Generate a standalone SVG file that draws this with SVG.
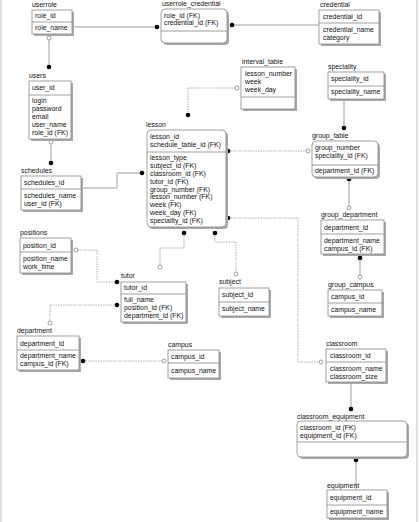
<svg xmlns="http://www.w3.org/2000/svg" width="420" height="522" viewBox="0 0 420 522">
<style>
text{font-family:"Liberation Sans",Arial,sans-serif;font-size:6.9px;fill:#111}
.box{fill:#fff;stroke:#888;stroke-width:0.8}
.sh{fill:#aaa}
.dv{stroke:#888;stroke-width:0.8}
.sol{fill:none;stroke:#888;stroke-width:0.8}
.dash{fill:none;stroke:#999;stroke-width:0.8;stroke-dasharray:1.5 1}
.dot{fill:#000}
.oc{fill:#fff;stroke:#888;stroke-width:0.8}
.bd{stroke:#bbb;stroke-width:1}
</style>
<rect width="420" height="522" fill="#fff"/>
<line class="bd" x1="1" y1="0" x2="1" y2="522"/>
<line class="bd" x1="417" y1="0" x2="417" y2="522"/>

<g id="connectors">
<path class="sol" d="M72,27 H157"/>
<circle class="dot" cx="157" cy="27" r="2.3"/>
<path class="sol" d="M232,25 H319"/>
<circle class="dot" cx="232" cy="25" r="2.3"/>
<path class="sol" d="M49,38 V67"/>
<circle class="oc" cx="49" cy="38" r="2"/>
<circle class="dot" cx="49" cy="67" r="2.3"/>
<path class="sol" d="M51,143 V163"/>
<circle class="oc" cx="51" cy="142" r="2"/>
<circle class="dot" cx="51" cy="163" r="2.3"/>
<path class="sol" d="M81,188 H117 V173 H142"/>
<circle class="dot" cx="142" cy="173" r="2.3"/>
<path class="dash" d="M188,115 V88 H236"/>
<circle class="dot" cx="188" cy="115" r="2.3"/>
<circle class="oc" cx="237" cy="88" r="2"/>
<path class="sol" d="M344,99 V128"/>
<circle class="dot" cx="344" cy="128" r="2.3"/>
<path class="dash" d="M228,151 H306"/>
<circle class="dot" cx="228" cy="151" r="2.3"/>
<circle class="oc" cx="308" cy="151" r="2"/>
<path class="dash" d="M228,218 H298 V362 H319"/>
<circle class="dot" cx="228" cy="218" r="2.3"/>
<circle class="oc" cx="321" cy="362" r="2"/>
<path class="sol" d="M349,180 V206"/>
<circle class="dot" cx="349" cy="179" r="2.3"/>
<circle class="oc" cx="349" cy="208" r="2"/>
<path class="sol" d="M360,258 V275"/>
<circle class="dot" cx="360" cy="258" r="2.3"/>
<circle class="oc" cx="360" cy="277" r="2"/>
<path class="dash" d="M215,233 V242 H236 V272"/>
<circle class="dot" cx="215" cy="233" r="2.3"/>
<circle class="oc" cx="236" cy="274" r="2"/>
<path class="dash" d="M184,233 V248 H160 V265"/>
<circle class="dot" cx="184" cy="233" r="2.3"/>
<circle class="oc" cx="160" cy="267" r="2"/>
<path class="dash" d="M78,250 H97 V282 H117"/>
<circle class="oc" cx="76" cy="250" r="2"/>
<circle class="dot" cx="117" cy="282" r="2.3"/>
<path class="dash" d="M117,305 H50 V321"/>
<circle class="dot" cx="117" cy="305" r="2.3"/>
<circle class="oc" cx="50" cy="323" r="2"/>
<path class="dash" d="M83,361 H162"/>
<circle class="dot" cx="83" cy="361" r="2.3"/>
<circle class="oc" cx="164" cy="361" r="2"/>
<path class="sol" d="M351,382 V409"/>
<circle class="dot" cx="351" cy="409" r="2.3"/>
<path class="sol" d="M356,460 V490"/>
<circle class="dot" cx="356" cy="460" r="2.3"/>
</g>

<g id="userrole">
<text x="32" y="7">userrole</text>
<rect class="sh" x="34" y="12" width="40" height="24"/>
<rect class="box" x="32" y="10" width="40" height="24"/>
<line class="dv" x1="32" y1="22" x2="72" y2="22"/>
<text x="35" y="17.5">role_id</text>
<text x="35" y="30">role_name</text>
</g>

<g id="userrole_credential">
<text x="162" y="6">userrole_credential</text>
<rect class="sh" x="163" y="11" width="66" height="34" rx="4"/>
<rect class="box" x="161" y="9" width="66" height="34" rx="4"/>
<line class="dv" x1="161" y1="31" x2="227" y2="31"/>
<text x="164" y="17.5">role_id (FK)</text>
<text x="164" y="25">credential_id (FK)</text>
</g>

<g id="credential">
<text x="320" y="7">credential</text>
<rect class="sh" x="321" y="12" width="60" height="34"/>
<rect class="box" x="319" y="10" width="60" height="34"/>
<line class="dv" x1="319" y1="23" x2="379" y2="23"/>
<text x="323" y="19">credential_id</text>
<text x="323" y="32">credential_name</text>
<text x="323" y="40">category</text>
</g>

<g id="users">
<text x="29" y="78">users</text>
<rect class="sh" x="31" y="83" width="42" height="58"/>
<rect class="box" x="29" y="81" width="42" height="58"/>
<line class="dv" x1="29" y1="95" x2="71" y2="95"/>
<text x="32" y="90">user_id</text>
<text x="32" y="103">login</text>
<text x="32" y="111">password</text>
<text x="32" y="119">email</text>
<text x="32" y="127">user_name</text>
<text x="32" y="135">role_id (FK)</text>
</g>

<g id="schedules">
<text x="21" y="173">schedules</text>
<rect class="sh" x="23" y="178" width="60" height="34"/>
<rect class="box" x="21" y="176" width="60" height="34"/>
<line class="dv" x1="21" y1="189" x2="81" y2="189"/>
<text x="24" y="185">schedules_id</text>
<text x="24" y="198">schedules_name</text>
<text x="24" y="206">user_id (FK)</text>
</g>

<g id="interval_table">
<text x="242" y="64">interval_table</text>
<rect class="sh" x="243" y="69" width="54" height="42"/>
<rect class="box" x="241" y="67" width="54" height="42"/>
<line class="dv" x1="241" y1="97" x2="295" y2="97"/>
<text x="245" y="76">lesson_number</text>
<text x="245" y="84">week</text>
<text x="245" y="92">week_day</text>
</g>

<g id="speciality">
<text x="328" y="69">speciality</text>
<rect class="sh" x="330" y="74" width="56" height="27"/>
<rect class="box" x="328" y="72" width="56" height="27"/>
<line class="dv" x1="328" y1="86" x2="384" y2="86"/>
<text x="331" y="81">speciality_id</text>
<text x="331" y="94">speciality_name</text>
</g>

<g id="lesson">
<text x="146" y="127">lesson</text>
<rect class="sh" x="149" y="132" width="79" height="97" rx="4"/>
<rect class="box" x="147" y="130" width="79" height="97" rx="4"/>
<line class="dv" x1="147" y1="152" x2="226" y2="152"/>
<text x="150" y="138.5">lesson_id</text>
<text x="150" y="146.5">schedule_table_id (FK)</text>
<text x="150" y="160">lesson_type</text>
<text x="150" y="168">subject_id (FK)</text>
<text x="150" y="175.5">classroom_id (FK)</text>
<text x="150" y="183.5">tutor_id (FK)</text>
<text x="150" y="191.5">group_number (FK)</text>
<text x="150" y="199">lesson_number (FK)</text>
<text x="150" y="207">week (FK)</text>
<text x="150" y="214.5">week_day (FK)</text>
<text x="150" y="222.5">speciality_id (FK)</text>
</g>

<g id="group_table">
<text x="312" y="138">group_table</text>
<rect class="sh" x="314" y="143" width="66" height="36" rx="4"/>
<rect class="box" x="312" y="141" width="66" height="36" rx="4"/>
<line class="dv" x1="312" y1="165" x2="378" y2="165"/>
<text x="315" y="150">group_number</text>
<text x="315" y="158">speciality_id (FK)</text>
<text x="315" y="173">department_id (FK)</text>
</g>

<g id="group_department">
<text x="321" y="217">group_department</text>
<rect class="sh" x="323" y="222" width="63" height="34"/>
<rect class="box" x="321" y="220" width="63" height="34"/>
<line class="dv" x1="321" y1="234" x2="384" y2="234"/>
<text x="324" y="230">department_id</text>
<text x="324" y="243">department_name</text>
<text x="324" y="251">campus_id (FK)</text>
</g>

<g id="group_campus">
<text x="328" y="287">group_campus</text>
<rect class="sh" x="330" y="292" width="54" height="26"/>
<rect class="box" x="328" y="290" width="54" height="26"/>
<line class="dv" x1="328" y1="303" x2="382" y2="303"/>
<text x="331" y="299">campus_id</text>
<text x="331" y="312">campus_name</text>
</g>

<g id="subject">
<text x="219" y="284">subject</text>
<rect class="sh" x="221" y="290" width="50" height="28"/>
<rect class="box" x="219" y="288" width="50" height="28"/>
<line class="dv" x1="219" y1="302" x2="269" y2="302"/>
<text x="222" y="297">subject_id</text>
<text x="222" y="311">subject_name</text>
</g>

<g id="positions">
<text x="20" y="235">positions</text>
<rect class="sh" x="22" y="240" width="51" height="35"/>
<rect class="box" x="20" y="238" width="51" height="35"/>
<line class="dv" x1="20" y1="252" x2="71" y2="252"/>
<text x="23" y="247.5">position_id</text>
<text x="23" y="260.5">position_name</text>
<text x="23" y="268.5">work_time</text>
</g>

<g id="tutor">
<text x="121" y="278">tutor</text>
<rect class="sh" x="123" y="284" width="65" height="40"/>
<rect class="box" x="121" y="282" width="65" height="40"/>
<line class="dv" x1="121" y1="294" x2="186" y2="294"/>
<text x="124" y="290">tutor_id</text>
<text x="124" y="302">full_name</text>
<text x="124" y="310">position_id (FK)</text>
<text x="124" y="318">department_id (FK)</text>
</g>

<g id="department">
<text x="17" y="333">department</text>
<rect class="sh" x="19" y="338" width="62" height="34"/>
<rect class="box" x="17" y="336" width="62" height="34"/>
<line class="dv" x1="17" y1="350" x2="79" y2="350"/>
<text x="20" y="345.5">department_id</text>
<text x="20" y="358">department_name</text>
<text x="20" y="366">campus_id (FK)</text>
</g>

<g id="campus">
<text x="168" y="347">campus</text>
<rect class="sh" x="170" y="352" width="51" height="28"/>
<rect class="box" x="168" y="350" width="51" height="28"/>
<line class="dv" x1="168" y1="363" x2="219" y2="363"/>
<text x="171" y="359">campus_id</text>
<text x="171" y="373">campus_name</text>
</g>

<g id="classroom">
<text x="326" y="346">classroom</text>
<rect class="sh" x="328" y="351" width="60" height="33"/>
<rect class="box" x="326" y="349" width="60" height="33"/>
<line class="dv" x1="326" y1="362" x2="386" y2="362"/>
<text x="330" y="358">classroom_id</text>
<text x="330" y="371">classroom_name</text>
<text x="330" y="379">classroom_size</text>
</g>

<g id="classroom_equipment">
<text x="297" y="419">classroom_equipment</text>
<rect class="sh" x="299" y="423" width="110" height="36" rx="4"/>
<rect class="box" x="297" y="421" width="110" height="36" rx="4"/>
<line class="dv" x1="297" y1="442" x2="407" y2="442"/>
<text x="300" y="430">classroom_id (FK)</text>
<text x="300" y="438">equipment_id (FK)</text>
</g>

<g id="equipment">
<text x="327" y="488">equipment</text>
<rect class="sh" x="329" y="492" width="60" height="28"/>
<rect class="box" x="327" y="490" width="60" height="28"/>
<line class="dv" x1="327" y1="505" x2="387" y2="505"/>
<text x="330" y="500">equipment_id</text>
<text x="330" y="514">equipment_name</text>
</g>
</svg>
